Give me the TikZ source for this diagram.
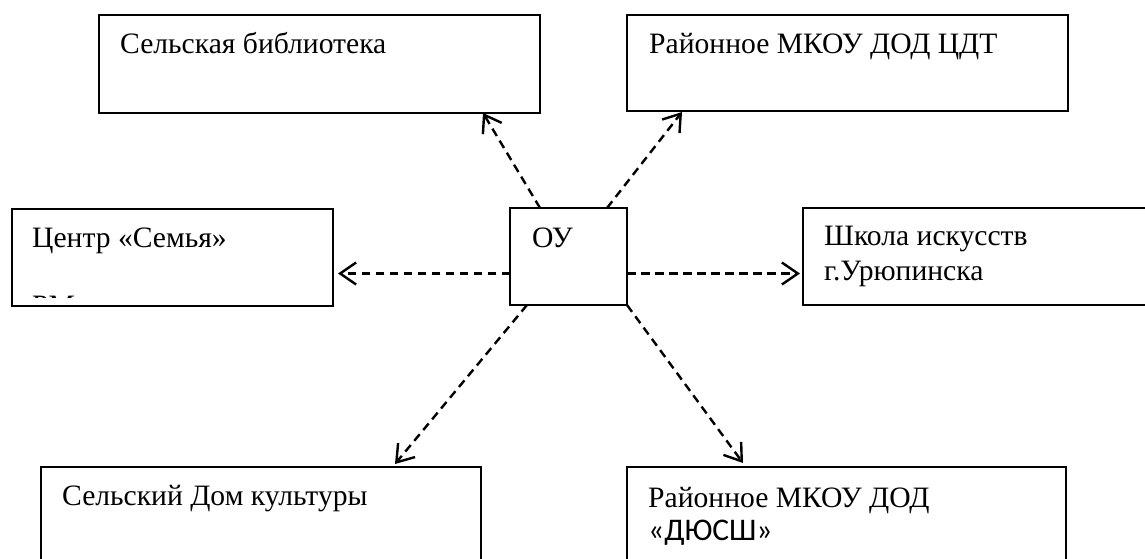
\documentclass[tikz,border=0pt]{standalone}
\usepackage{fontspec}
\setmainfont{Liberation Serif}
\newfontfamily\sansfont{Carlito}
\usepackage{tikz}
\usetikzlibrary{positioning,arrows.meta,calc}
\tikzstyle{orgbox}=[draw=black,line width=2.4pt,inner sep=0pt,outer sep=0pt,anchor=north west]
\tikzstyle{boxtext}=[anchor=base west,inner sep=0pt,font=\fontsize{29.6}{35}\selectfont]
\tikzstyle{link}=[draw=black,line width=2.4pt,dash pattern=on 8.5pt off 5.5pt,
    arrows={-Straight Barb[length=16pt,width=22pt,line width=2.4pt]}]

\begin{document}
\begin{tikzpicture}[x=1pt,y=-1pt]
    \useasboundingbox (0,0) rectangle (1145,558);
    \clip (0,0) rectangle (1145,558);

    % boxes
    \node[orgbox, minimum width=441pt, minimum height=98pt] (lib) at (99,15) {};
    \node[orgbox, minimum width=441pt, minimum height=96pt] (ray) at (627,15) {};
    \node[orgbox, minimum width=321pt, minimum height=97pt] (cen) at (12,209) {};
    \node[orgbox, minimum width=117pt, minimum height=97pt] (ou) at (510,208) {};
    \node[orgbox, minimum width=600pt, minimum height=97pt] (shk) at (803,208) {};
    \node[orgbox, minimum width=440pt, minimum height=150pt] (dom) at (41,467) {};
    \node[orgbox, minimum width=439pt, minimum height=150pt] (dus) at (627,467) {};

    % texts
    \node[boxtext] (libtxt) at ([shift={(21,38)}]lib.north west) {Сельская библиотека};
    \node[boxtext] (raytxt) at ([shift={(22,38)}]ray.north west) {Районное МКОУ ДОД ЦДТ};
    \node[boxtext] (centxt) at ([shift={(20,38)}]cen.north west) {Центр «Семья»};
    \begin{scope}
        \clip (cen.north west) rectangle ($(cen.south east)+(0,-9)$);
        \node[boxtext] (cenmore) at ([shift={(20,106)}]cen.north west) {РМ};
    \end{scope}
    \node[boxtext] (outxt) at ([shift={(22,39)}]ou.north west) {ОУ};
    \node[boxtext] (shktxt) at ([shift={(21,37)}]shk.north west) {Школа искусств};
    \node[boxtext] (shktxtb) at ([shift={(21,72)}]shk.north west) {г.Урюпинска};
    \node[boxtext] (domtxt) at ([shift={(21,38)}]dom.north west) {Сельский Дом культуры};
    \node[boxtext] (dustxt) at ([shift={(21,40)}]dus.north west) {Районное МКОУ ДОД};
    \node[boxtext, font=\sansfont\fontsize{31.5}{36}\selectfont] (dustxtb)
        at ([shift={(21,73)}]dus.north west) {«ДЮСШ»};

    % arrows
    \draw[link] ($(ou.north west)+(30,0)$) -- ($(lib.south east)+(-57,0)$);
    \draw[link] ($(ou.north east)+(-20,0)$) -- ($(ray.south west)+(55,1)$);
    \draw[link] ($(ou.west)+(0,17)$) -- ($(cen.east)+(5,16)$);
    \draw[link] ($(ou.east)+(0,17)$) -- ($(shk.west)+(-3,17)$);
    \draw[link] ($(ou.south west)+(17,0)$) -- ($(dom.north east)+(-86,-3)$);
    \draw[link] (ou.south east) -- ($(dus.north west)+(116,-4)$);

\end{tikzpicture}
\end{document}
